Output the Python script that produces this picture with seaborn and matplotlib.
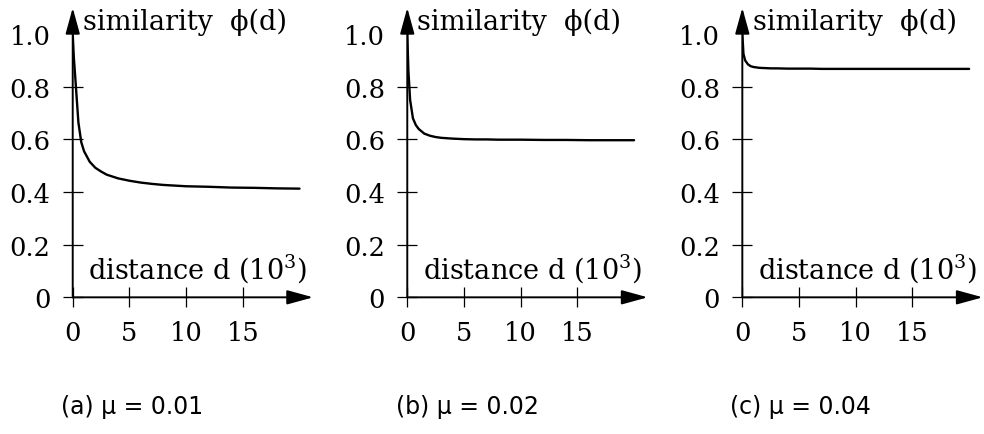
import matplotlib
matplotlib.use("Agg")
import matplotlib.pyplot as plt
import seaborn as sns

# distance d in thousands
distance = [0, 0.1, 0.25, 0.5, 0.75, 1.0, 1.5, 2, 2.5, 3, 4, 5, 6, 7, 8, 10, 12, 14, 16, 18, 20]

# similarity phi(d) for each mutation rate
sim_001 = [1.0, 0.91, 0.82, 0.665, 0.59, 0.555, 0.515, 0.492, 0.478, 0.466, 0.452, 0.443,
           0.436, 0.431, 0.427, 0.422, 0.42, 0.417, 0.416, 0.414, 0.413]
sim_002 = [1.0, 0.86, 0.75, 0.68, 0.655, 0.64, 0.622, 0.614, 0.609, 0.606, 0.603, 0.601,
           0.6, 0.6, 0.599, 0.599, 0.598, 0.598, 0.597, 0.597, 0.597]
sim_004 = [1.0, 0.925, 0.9, 0.885, 0.878, 0.875, 0.872, 0.871, 0.87, 0.87, 0.869, 0.869,
           0.869, 0.868, 0.868, 0.868, 0.868, 0.868, 0.868, 0.868, 0.868]

captions = ["(a) μ = 0.01", "(b) μ = 0.02", "(c) μ = 0.04"]
x_ticks = [0, 5, 10, 15]
x_labels = ["0", "5", "10", "15"]
y_ticks = [0, 0.2, 0.4, 0.6, 0.8, 1.0]
y_labels = ["0", "0.2", "0.4", "0.6", "0.8", "1.0"]

sns.set_style("white")
plt.rcParams["font.family"] = ["DejaVu Serif"]
plt.rcParams["mathtext.fontset"] = "dejavuserif"
plt.rcParams["text.color"] = "black"

fig = plt.figure(figsize=(9.84, 4.35), dpi=100)

lefts = [0.0739, 0.4139, 0.7544]
caption_x = [0.134, 0.475, 0.813]
series = [sim_001, sim_002, sim_004]

for left, sim, cap, cx in zip(lefts, series, captions, caption_x):
    ax = fig.add_axes([left, 0.3142, 0.2443, 0.6655])
    sns.lineplot(x=distance, y=sim, ax=ax, color="black", lw=1.7)
    ax.set_xlim(0, 21.2)
    ax.set_ylim(0, 1.1)
    for s in ax.spines.values():
        s.set_visible(False)
    ax.set_xticks(x_ticks)
    ax.set_xticklabels(x_labels)
    ax.set_yticks(y_ticks)
    ax.set_yticklabels(y_labels)
    ax.tick_params(bottom=True, left=True, direction="inout", length=14, width=0.9,
                   labelsize=18.5, pad=9, colors="black")
    ax.yaxis.get_major_ticks()[-1].tick1line.set_visible(False)

    arrow = dict(arrowstyle="-|>,head_length=0.8,head_width=0.22", color="black",
                 lw=1.4, mutation_scale=20, shrinkA=0, shrinkB=0)
    ax.annotate("", xy=(21.2, 0), xytext=(0, 0), arrowprops=arrow, annotation_clip=False)
    ax.annotate("", xy=(0, 1.1), xytext=(0, 0), arrowprops=arrow, annotation_clip=False)

    ax.text(0.9, 1.05, "similarity  ϕ(d)", fontsize=19.5, va="center", ha="left")
    ax.text(1.35, 0.115, "distance d (10$^3$)", fontsize=19.5, va="center", ha="left")

    fig.text(cx, 0.064, cap, fontsize=17, ha="center", va="center",
             family=["DejaVu Sans"])

fig.savefig("out.png", dpi=100)
